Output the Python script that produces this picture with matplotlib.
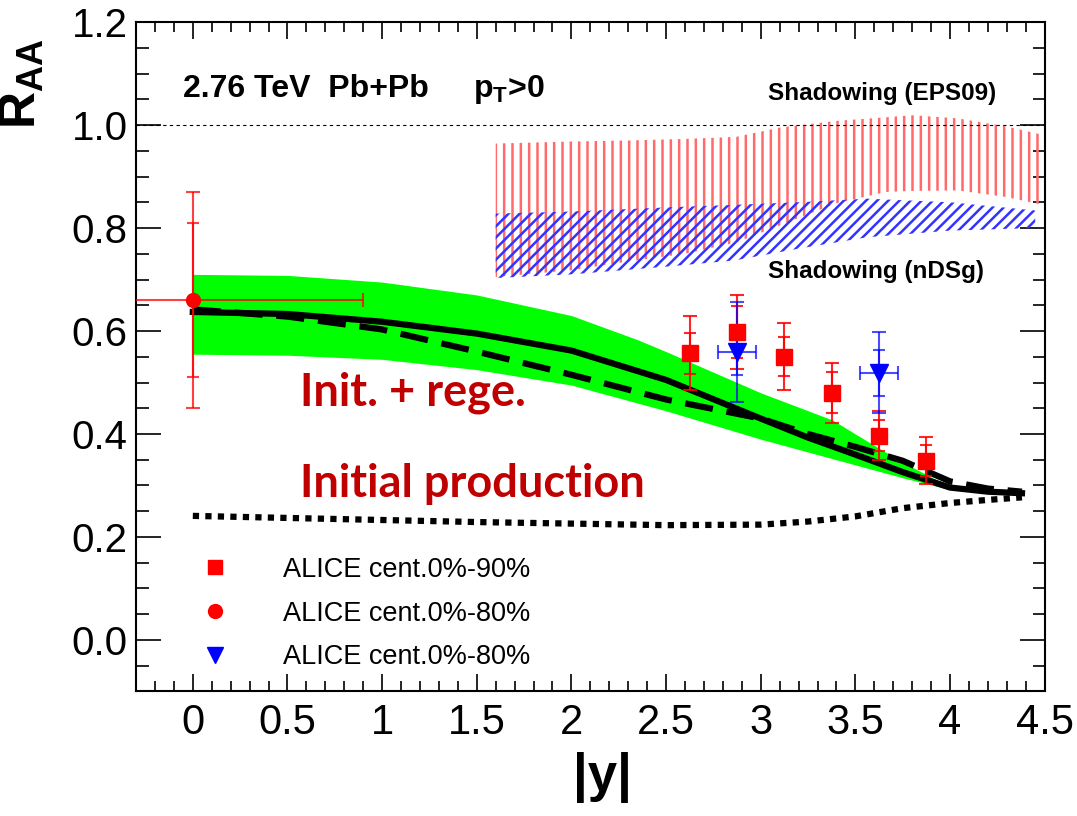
import numpy as np
import matplotlib
matplotlib.use("Agg")
import matplotlib.pyplot as plt
from matplotlib.lines import Line2D
from matplotlib.ticker import MultipleLocator, FuncFormatter

plt.rcParams["font.family"] = ["Liberation Sans", "DejaVu Sans"]
plt.rcParams["mathtext.fontset"] = "custom"
plt.rcParams["mathtext.rm"] = "Liberation Sans"
plt.rcParams["mathtext.bf"] = "Liberation Sans:bold"
plt.rcParams["hatch.linewidth"] = 1.8

# theory curves
y_theory = [0.0, 0.5, 1.0, 1.5, 2.0, 2.5, 3.0, 3.25, 3.5, 3.75, 4.0, 4.2, 4.38]
raa_solid = [0.637, 0.633, 0.618, 0.595, 0.562, 0.505, 0.430, 0.393, 0.360, 0.326, 0.296, 0.288, 0.285]
raa_dashed = [0.642, 0.628, 0.603, 0.560, 0.515, 0.467, 0.430, 0.400, 0.375, 0.348, 0.308, 0.294, 0.288]
raa_initial = [0.241, 0.237, 0.233, 0.229, 0.226, 0.223, 0.224, 0.230, 0.240, 0.256, 0.266, 0.272, 0.277]

# green uncertainty band of init. + rege.
y_band = [0.0, 0.5, 1.0, 1.5, 2.0, 2.35, 2.5, 3.0, 3.38, 3.5, 3.75, 4.0]
band_upper = [0.710, 0.708, 0.695, 0.670, 0.630, 0.583, 0.560, 0.480, 0.427, 0.400, 0.345, 0.298]
band_lower = [0.555, 0.553, 0.545, 0.525, 0.495, 0.460, 0.445, 0.390, 0.352, 0.340, 0.315, 0.292]

# shadowing bands
y_eps = [1.6, 2.0, 2.3, 2.6, 2.87, 3.1, 3.4, 3.66, 3.8, 4.04, 4.3, 4.5]
eps_upper = [0.964, 0.968, 0.970, 0.973, 0.977, 0.995, 1.008, 1.015, 1.019, 1.013, 0.997, 0.980]
eps_lower = [0.705, 0.718, 0.735, 0.750, 0.772, 0.805, 0.848, 0.870, 0.872, 0.873, 0.860, 0.844]

y_ndsg = [1.6, 2.0, 2.5, 2.86, 3.2, 3.56, 4.0, 4.45]
ndsg_upper = [0.828, 0.832, 0.840, 0.845, 0.850, 0.857, 0.850, 0.834]
ndsg_lower = [0.703, 0.710, 0.725, 0.737, 0.760, 0.782, 0.795, 0.800]

# ALICE data
fwd_y = [2.625, 2.875, 3.125, 3.375, 3.625, 3.875]
fwd_raa = [0.557, 0.598, 0.550, 0.480, 0.397, 0.348]
fwd_err = [0.072, 0.072, 0.065, 0.058, 0.048, 0.046]
fwd_err_in = [0.040, 0.050, 0.038, 0.040, 0.030, 0.030]

mid_y = [0.0]
mid_raa = [0.66]
mid_err = [0.21]
mid_err_in = [0.15]
mid_xerr = [0.9]

tri_y = [2.875, 3.625]
tri_raa = [0.560, 0.519]
tri_err = [0.097, 0.079]
tri_err_in = [0.045, 0.045]
tri_xerr = [0.1, 0.1]

fig = plt.figure(figsize=(10.77, 8.16), dpi=100)
ax = fig.add_axes([0.1263, 0.1526, 0.8437, 0.8204])

ax.fill_between(y_band, band_lower, band_upper, color="#00ff00", lw=0, zorder=1)
ax.fill_between(y_eps, eps_lower, eps_upper, facecolor="none", edgecolor="#ff6a6a",
                hatch="||", lw=0, zorder=2)
ax.fill_between(y_ndsg, ndsg_lower, ndsg_upper, facecolor="none", edgecolor="#3333ff",
                hatch="///", lw=0, zorder=2)

ax.plot(y_theory, raa_solid, color="black", lw=4.5, zorder=3)
ax.plot(y_theory, raa_dashed, color="black", lw=4.5, dashes=(4.5, 2.2), zorder=3)
ax.plot(y_theory, raa_initial, color="black", lw=4.5, dashes=(1, 1), zorder=3)

ax.axhline(1.0, color="black", lw=0.8, dashes=(3, 3), zorder=2)

# error bars: full and inner caps
ax.errorbar(fwd_y, fwd_raa, yerr=fwd_err, fmt="none", ecolor="red", elinewidth=1.5,
            capsize=5, capthick=1.5, alpha=0.85, zorder=4)
ax.errorbar(fwd_y, fwd_raa, yerr=fwd_err_in, fmt="none", ecolor="red", elinewidth=1.5,
            capsize=4, capthick=1.5, alpha=0.85, zorder=4)
ax.plot(fwd_y, fwd_raa, "s", color="red", ms=11.5, zorder=5)

ax.errorbar(mid_y, mid_raa, yerr=mid_err, xerr=mid_xerr, fmt="none", ecolor="red",
            elinewidth=1.5, capsize=5, capthick=1.5, alpha=0.75, zorder=4)
ax.errorbar(mid_y, mid_raa, yerr=mid_err_in, fmt="none", ecolor="red",
            elinewidth=1.5, capsize=4, capthick=1.5, alpha=0.75, zorder=4)
ax.plot(mid_y, mid_raa, "o", color="red", ms=10, zorder=5)

ax.errorbar(tri_y, tri_raa, yerr=tri_err, xerr=tri_xerr, fmt="none", ecolor="blue",
            elinewidth=1.5, capsize=5, capthick=1.5, alpha=0.7, zorder=4)
ax.errorbar(tri_y, tri_raa, yerr=tri_err_in, fmt="none", ecolor="blue",
            elinewidth=1.5, capsize=4, capthick=1.5, alpha=0.7, zorder=4)
ax.plot(tri_y, tri_raa, "v", color="blue", ms=13, zorder=5)

ax.set_xlim(-0.3, 4.5)
ax.set_ylim(-0.1, 1.2)
ax.xaxis.set_major_locator(MultipleLocator(0.5))
ax.xaxis.set_minor_locator(MultipleLocator(0.1))
ax.yaxis.set_major_locator(MultipleLocator(0.2))
ax.yaxis.set_minor_locator(MultipleLocator(0.05))
ax.xaxis.set_major_formatter(FuncFormatter(lambda v, p: f"{v:g}"))
ax.yaxis.set_major_formatter(FuncFormatter(lambda v, p: f"{v:.1f}"))
ax.tick_params(which="both", direction="in", top=True, right=True, width=1.2)
ax.tick_params(axis="y", which="major", length=18, labelsize=29, pad=6)
ax.tick_params(axis="y", which="minor", length=9)
ax.tick_params(axis="x", which="major", length=12, labelsize=30, pad=8)
ax.tick_params(axis="x", which="minor", length=7)
for s in ax.spines.values():
    s.set_linewidth(1.5)

ax.set_xlabel("|y|", fontsize=38, fontweight="bold", labelpad=8)
ax.xaxis.set_label_coords(0.513, -0.09)
ax.xaxis.label.set_va("top")
ax.set_ylabel(r"$\mathbf{R}_{\mathbf{AA}}$", fontsize=37, loc="top")
ax.yaxis.set_label_coords(-0.098, 0.975)

ax.text(-0.053, 1.054, "2.76 TeV  Pb+Pb", fontsize=23, fontweight="bold", va="baseline")
ax.text(1.48, 1.054, r"$\mathbf{p}_{\mathbf{T}}$>0", fontsize=23, fontweight="bold", va="baseline")
ax.text(3.04, 1.049, "Shadowing (EPS09)", fontsize=17.5, fontweight="bold", va="baseline")
ax.text(3.04, 0.703, "Shadowing (nDSg)", fontsize=17.5, fontweight="bold", va="baseline")
ax.text(0.566, 0.456, "Init. + rege.", fontsize=32.5, fontweight="bold", color="#c00000",
        family="Lato", va="baseline")
ax.text(0.566, 0.278, "Initial production", fontsize=32.5, fontweight="bold", color="#c00000",
        family="Lato", va="baseline")

handles = [
    Line2D([], [], marker="s", color="red", ls="none", ms=10),
    Line2D([], [], marker="o", color="red", ls="none", ms=10),
    Line2D([], [], marker="v", color="blue", ls="none", ms=11),
]
labels = ["ALICE cent.0%-90%", "ALICE cent.0%-80%", "ALICE cent.0%-80%"]
ax.legend(handles, labels, loc="upper left", bbox_to_anchor=(0.072, 0.201), frameon=False,
          fontsize=19.5, handlelength=1.0, handletextpad=2.0, labelspacing=0.65,
          borderpad=0, borderaxespad=0)

fig.savefig("out.png", dpi=100)
